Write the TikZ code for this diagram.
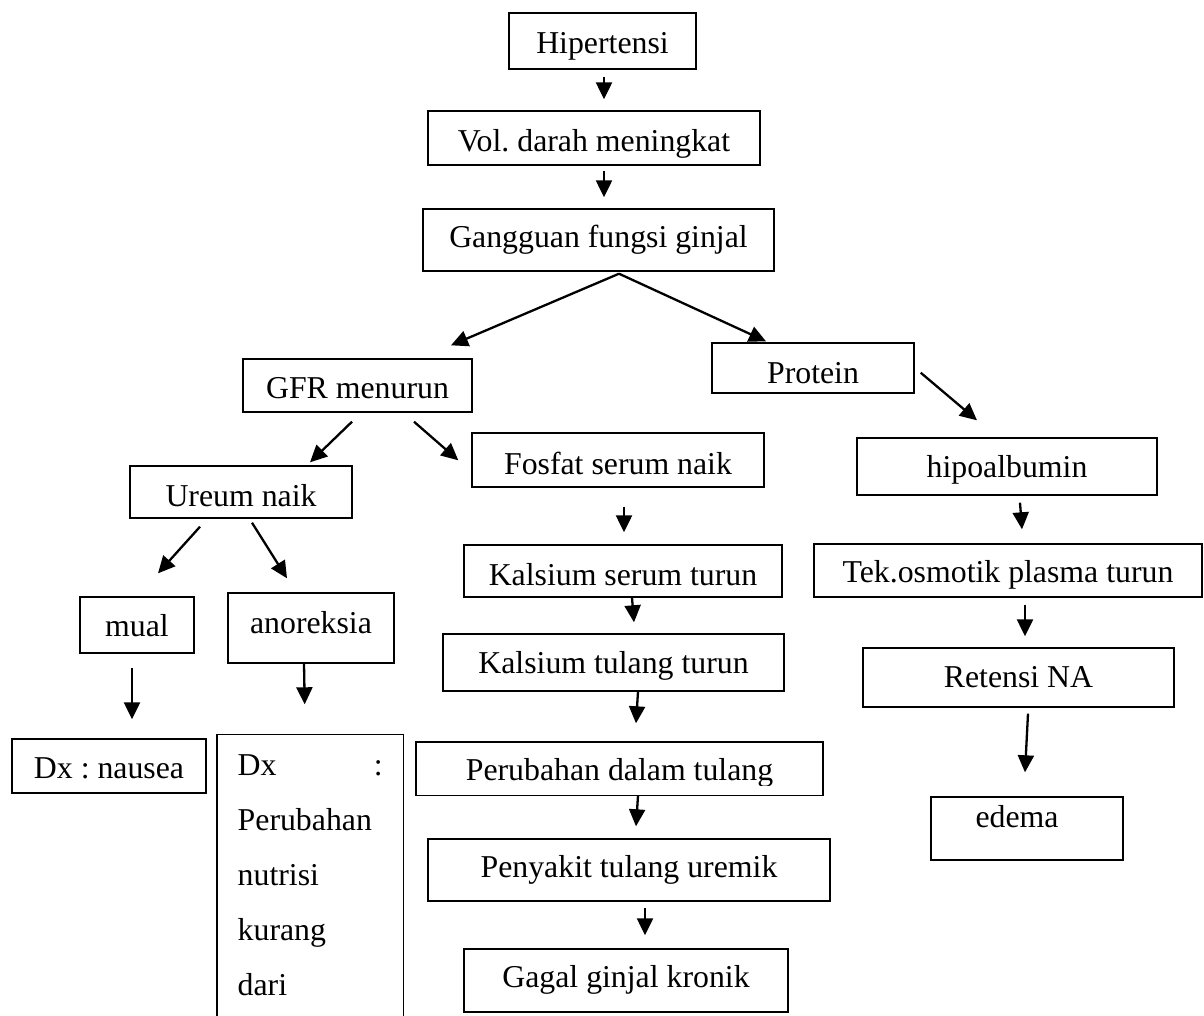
\documentclass[tikz,border=0pt]{standalone}
\usepackage{fontspec}
\setmainfont{Liberation Serif}
\usetikzlibrary{arrows.meta,calc}
\begin{document}
\frenchspacing
\begin{tikzpicture}[x=1pt,y=-1pt,
  bx/.style={draw,line width=1.4pt,inner sep=0pt,anchor=base,
    font=\fontsize{31.8}{38}\selectfont\frenchspacing},
  arr/.style={line width=2.3pt,-{Triangle[length=17pt,width=16pt]}}]
\useasboundingbox (0,0) rectangle (1204,1015);
% boxes: at (cx, baseline), text height = base-top, text depth = bottom-base
\node[bx,minimum width=187,text height=40,text depth=16] (hip) at (602.5,53) {Hipertensi};
\node[bx,minimum width=332,text height=40,text depth=14] (vol) at (594,151) {Vol. darah meningkat};
\node[bx,minimum width=351,text height=38,text depth=24] (gang) at (598.5,247) {Gangguan fungsi ginjal};
\node[bx,minimum width=229,text height=39,text depth=14] (gfr) at (357.5,398) {GFR menurun};
\node[bx,minimum width=202,text height=40,text depth=10] (prot) at (813,383) {Protein};
\node[bx,minimum width=222,text height=40,text depth=12] (ureum) at (241,506) {Ureum naik};
\node[bx,minimum width=292,text height=41,text depth=13] (fosfat) at (618,474) {Fosfat serum naik};
\node[bx,minimum width=300,text height=39,text depth=18] (hipo) at (1007,477) {hipoalbumin};
\node[bx,minimum width=114,text height=39,text depth=17] (mual) at (137,636) {mual};
\node[bx,minimum width=166,text height=40,text depth=30] (anor) at (311,633) {anoreksia};
\node[bx,minimum width=318,text height=40,text depth=12] (kser) at (623,585) {Kalsium serum turun};
\node[bx,minimum width=388,text height=38,text depth=15] (tek) at (1008,582) {Tek.osmotik plasma turun};
\node[bx,minimum width=341,text height=39,text depth=18] (ktul) at (613.5,673) {Kalsium tulang turun};
\node[bx,minimum width=311,text height=39,text depth=20] (ret) at (1018.5,687) {Retensi NA};
\node[bx,minimum width=194,text height=39,text depth=15] (dxn) at (109,778) {Dx : nausea};
\node[bx,minimum width=407,text height=38,text depth=15] (perub) at (619.5,780) {Perubahan dalam tulang};
\fill[white] ($(perub.south west)+(1.5,-1.2)$) rectangle ($(perub.south east)+(-1.5,-10)$);
\node[bx,minimum width=402,text height=38,text depth=24] (peny) at (629,877) {Penyakit tulang uremik};
\node[bx,minimum width=192,text height=30,text depth=33] (edema) at (1027,827) {\hspace*{-20pt}edema};
\node[bx,minimum width=324,text height=38,text depth=25] (gagal) at (626,987) {Gagal ginjal kronik};
% open-ended diagnosis box
\node[bx,draw=none,anchor=base west,inner xsep=20pt,inner ysep=0pt,text width=145pt,
  text height=40,text depth=240,align=left,
  font=\fontsize{31.8}{55}\selectfont] (dxa) at (217,775)
  {Dx\hfill:\\Perubahan\\nutrisi\\kurang\\dari};
\draw[line width=1.4pt] (dxa.south west) |- (dxa.north east) -- (dxa.south east);
% connectors
\draw[arr] ($(hip.south)+(1.5,7)$) -- ($(vol.north)+(10,-11)$);
\draw[arr] ($(vol.south)+(10,5)$) -- ($(gang.north)+(5.5,-11)$);
\draw[arr] ($(gang.south)+(20.5,2)$) -- ($(gfr.north)+(93.5,-13)$);
\draw[arr] ($(gang.south)+(20.5,2)$) -- ($(prot.north)+(-47,-1)$);
\draw[arr] ($(gfr.south)+(-5.5,9)$) -- ($(ureum.north)+(69,-3)$);
\draw[arr] ($(gfr.south)+(56.5,9)$) -- ($(fosfat.north west)+(-13,28)$);
\draw[arr] ($(prot.south east)+(6,-21)$) -- ($(hipo.north)+(-30,-17)$);
\draw[arr] ($(ureum.south)+(-41,8)$) -- ($(mual.north)+(21,-23)$);
\draw[arr] ($(ureum.south)+(11,4)$) -- ($(anor.north)+(-24,-14)$);
\draw[arr] ($(fosfat.south)+(6,19)$) -- ($(kser.north)+(1,-12)$);
\draw[arr] ($(hipo.south)+(13,7)$) -- ($(tek.north)+(14,-14)$);
\draw[arr] ($(mual.south)+(-5,14)$) -- ($(dxn.north)+(23,-19)$);
\draw[arr] ($(anor.south)+(-7,0)$) -- ($(dxa.north)+(-5.5,-30)$);
\draw[arr] ($(kser.south)+(9,0)$) -- ($(ktul.north)+(20.5,-11)$);
\draw[arr] ($(ktul.south)+(24.5,0)$) -- ($(perub.north)+(16.5,-18)$);
\draw[arr] ($(perub.south)+(18.5,0)$) -- ($(peny.north)+(7,-12)$);
\draw[arr] ($(peny.south)+(16,6)$) -- ($(gagal.north)+(19,-13)$);
\draw[arr] ($(tek.south)+(17,7)$) -- ($(ret.north)+(6.5,-11)$);
\draw[arr] ($(ret.south)+(9.5,6)$) -- ($(edema.north)+(-2,-24)$);
\end{tikzpicture}
\end{document}
